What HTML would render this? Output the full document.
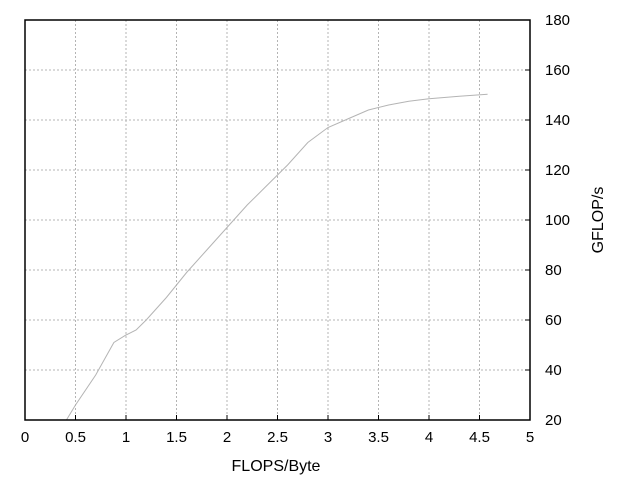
<!DOCTYPE html>
<html><head><meta charset="utf-8"><style>
html,body{margin:0;padding:0;background:#fff;}
svg text{font-family:"Liberation Sans",sans-serif;font-size:15px;fill:#000;}
svg text.title{font-size:16px;}
</style></head><body>
<svg id="chart" width="640" height="480">
<rect x="0" y="0" width="640" height="480" fill="#fff"/>
<g id="grid"></g>
<g id="series"></g>
<rect x="25" y="20" width="505" height="400" fill="none" stroke="#000" stroke-width="1.5"/>
<g id="ticks"></g>
<text class="title" x="276" y="471" text-anchor="middle">FLOPS/Byte</text>
<text class="title" transform="translate(603,220) rotate(-90)" text-anchor="middle">GFLOP/s</text>
</svg>
<script>
const xTicks=[0,0.5,1,1.5,2,2.5,3,3.5,4,4.5,5];
const yTicks=[20,40,60,80,100,120,140,160,180];
const xValues=[0.41,0.5,0.7,0.88,1.0,1.1,1.2,1.4,1.6,1.8,2.0,2.2,2.4,2.6,2.8,3.0,3.2,3.4,3.6,3.8,4.0,4.3,4.58];
const yValues=[20,26,38,51,54,56,60,69,79,88,97,106,114,122,131,137,140.5,144,146,147.5,148.5,149.5,150.3];
const NS='http://www.w3.org/2000/svg';
const px=x=>25+x*101;
const py=y=>420-(y-20)*2.5;
const grid=document.getElementById('grid'),ticks=document.getElementById('ticks'),series=document.getElementById('series');
function mk(tag,attrs,parent){const e=document.createElementNS(NS,tag);for(const k in attrs)e.setAttribute(k,attrs[k]);parent.appendChild(e);return e;}
xTicks.forEach(t=>{
  const x=px(t);
  if(t>0&&t<5){const g=mk('line',{x1:x,x2:x,y1:20,y2:420,stroke:'#b4b4b4','stroke-dasharray':'2,2'},grid);
  
  }
  const tk=mk('line',{x1:x,x2:x,y1:420,y2:415,stroke:'#000'},ticks);
  
  
  const tl=mk('text',{x:x,y:442,'text-anchor':'middle'},ticks);tl.textContent=String(t);
  
  
});
yTicks.forEach(t=>{
  const y=py(t);
  if(t>20&&t<180){const g=mk('line',{x1:25,x2:530,y1:y,y2:y,stroke:'#b4b4b4','stroke-dasharray':'2,2'},grid);
  
  }
  const tk=mk('line',{x1:525,x2:530,y1:y,y2:y,stroke:'#000'},ticks);
  
  
  const tl=mk('text',{x:545,y:y+5},ticks);tl.textContent=String(t);
  
  
});
const line=mk('polyline',{points:xValues.map((x,i)=>px(x)+','+py(yValues[i])).join(' '),fill:'none',stroke:'#b4b4b4','stroke-width':1},series);


</script>
</body></html>
